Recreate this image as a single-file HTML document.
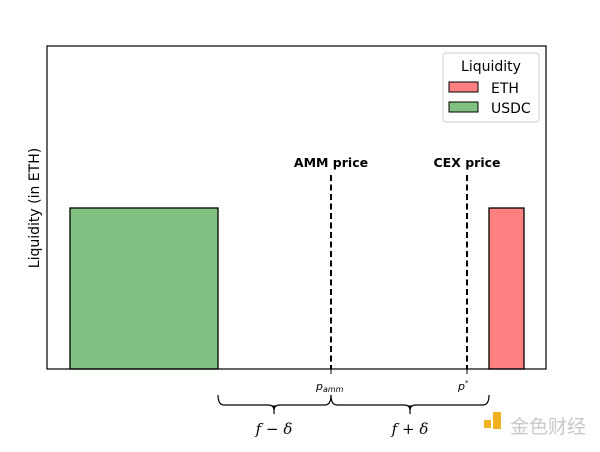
<!DOCTYPE html>
<html><head><meta charset="utf-8"><style>body{margin:0;background:#fff}</style></head><body>
<svg width="600" height="447" xmlns="http://www.w3.org/2000/svg" font-family="DejaVu Sans, Liberation Sans, sans-serif">
<rect width="600" height="447" fill="#fff"/>
<rect x="70" y="208" width="148" height="161" fill="#80c080" stroke="#000" stroke-width="1.3"/>
<rect x="489" y="208" width="35" height="161" fill="#ff8080" stroke="#000" stroke-width="1.3"/>
<line x1="331" y1="175" x2="331" y2="369" stroke="#000" stroke-width="2" stroke-dasharray="6,3.5"/>
<line x1="467" y1="175" x2="467" y2="369" stroke="#000" stroke-width="2" stroke-dasharray="6,3.5"/>
<text x="331" y="167" font-size="12.5" font-weight="bold" text-anchor="middle">AMM price</text>
<text x="467" y="167" font-size="12.5" font-weight="bold" text-anchor="middle">CEX price</text>
<rect x="47" y="46" width="499" height="323" fill="none" stroke="#000" stroke-width="1.2"/>
<line x1="331" y1="369" x2="331" y2="374" stroke="#000"/>
<line x1="467" y1="369" x2="467" y2="374" stroke="#000"/>
<text x="316" y="390" font-size="11" font-style="italic">p<tspan font-size="8" dy="2">amm</tspan></text>
<text x="458" y="390" font-size="11" font-style="italic">p<tspan font-size="7" dy="-5">*</tspan></text>
<text transform="translate(39,208) rotate(-90)" font-size="14" text-anchor="middle">Liquidity (in ETH)</text>
<g fill="none" stroke="#000" stroke-width="1.2">
<path d="M218,395 Q218,405 224,405 L268,405 Q274,405 274,410 Q274,405 280,405 L325,405 Q331,405 331,395"/>
<path d="M331,395 Q331,405 337,405 L404,405 Q410,405 410,410 Q410,405 416,405 L483,405 Q489,405 489,395"/>
<line x1="274" y1="405" x2="274" y2="414"/><line x1="410" y1="405" x2="410" y2="414"/>
</g>
<text x="274" y="434" font-size="15" font-style="italic" text-anchor="middle" font-family="DejaVu Serif, serif">f − δ</text>
<text x="410" y="434" font-size="15" font-style="italic" text-anchor="middle" font-family="DejaVu Serif, serif">f + δ</text>
<rect x="443" y="53" width="96" height="69" rx="3" fill="#fff" stroke="#ccc"/>
<text x="491" y="71" font-size="14" text-anchor="middle">Liquidity</text>
<rect x="449" y="82" width="29" height="10" fill="#ff8080" stroke="#000"/>
<text x="491" y="93" font-size="14">ETH</text>
<rect x="449" y="102" width="29" height="10" fill="#80c080" stroke="#000"/>
<text x="491" y="113" font-size="14">USDC</text>
<rect x="484" y="420" width="7" height="8" fill="#f0b020"/>
<rect x="493" y="412" width="8" height="17" fill="#f0b020"/>
<text x="510" y="433" font-size="19" fill="#c8c8c8" font-family="Noto Sans CJK SC, sans-serif">金色财经</text>
</svg>
</body></html>
